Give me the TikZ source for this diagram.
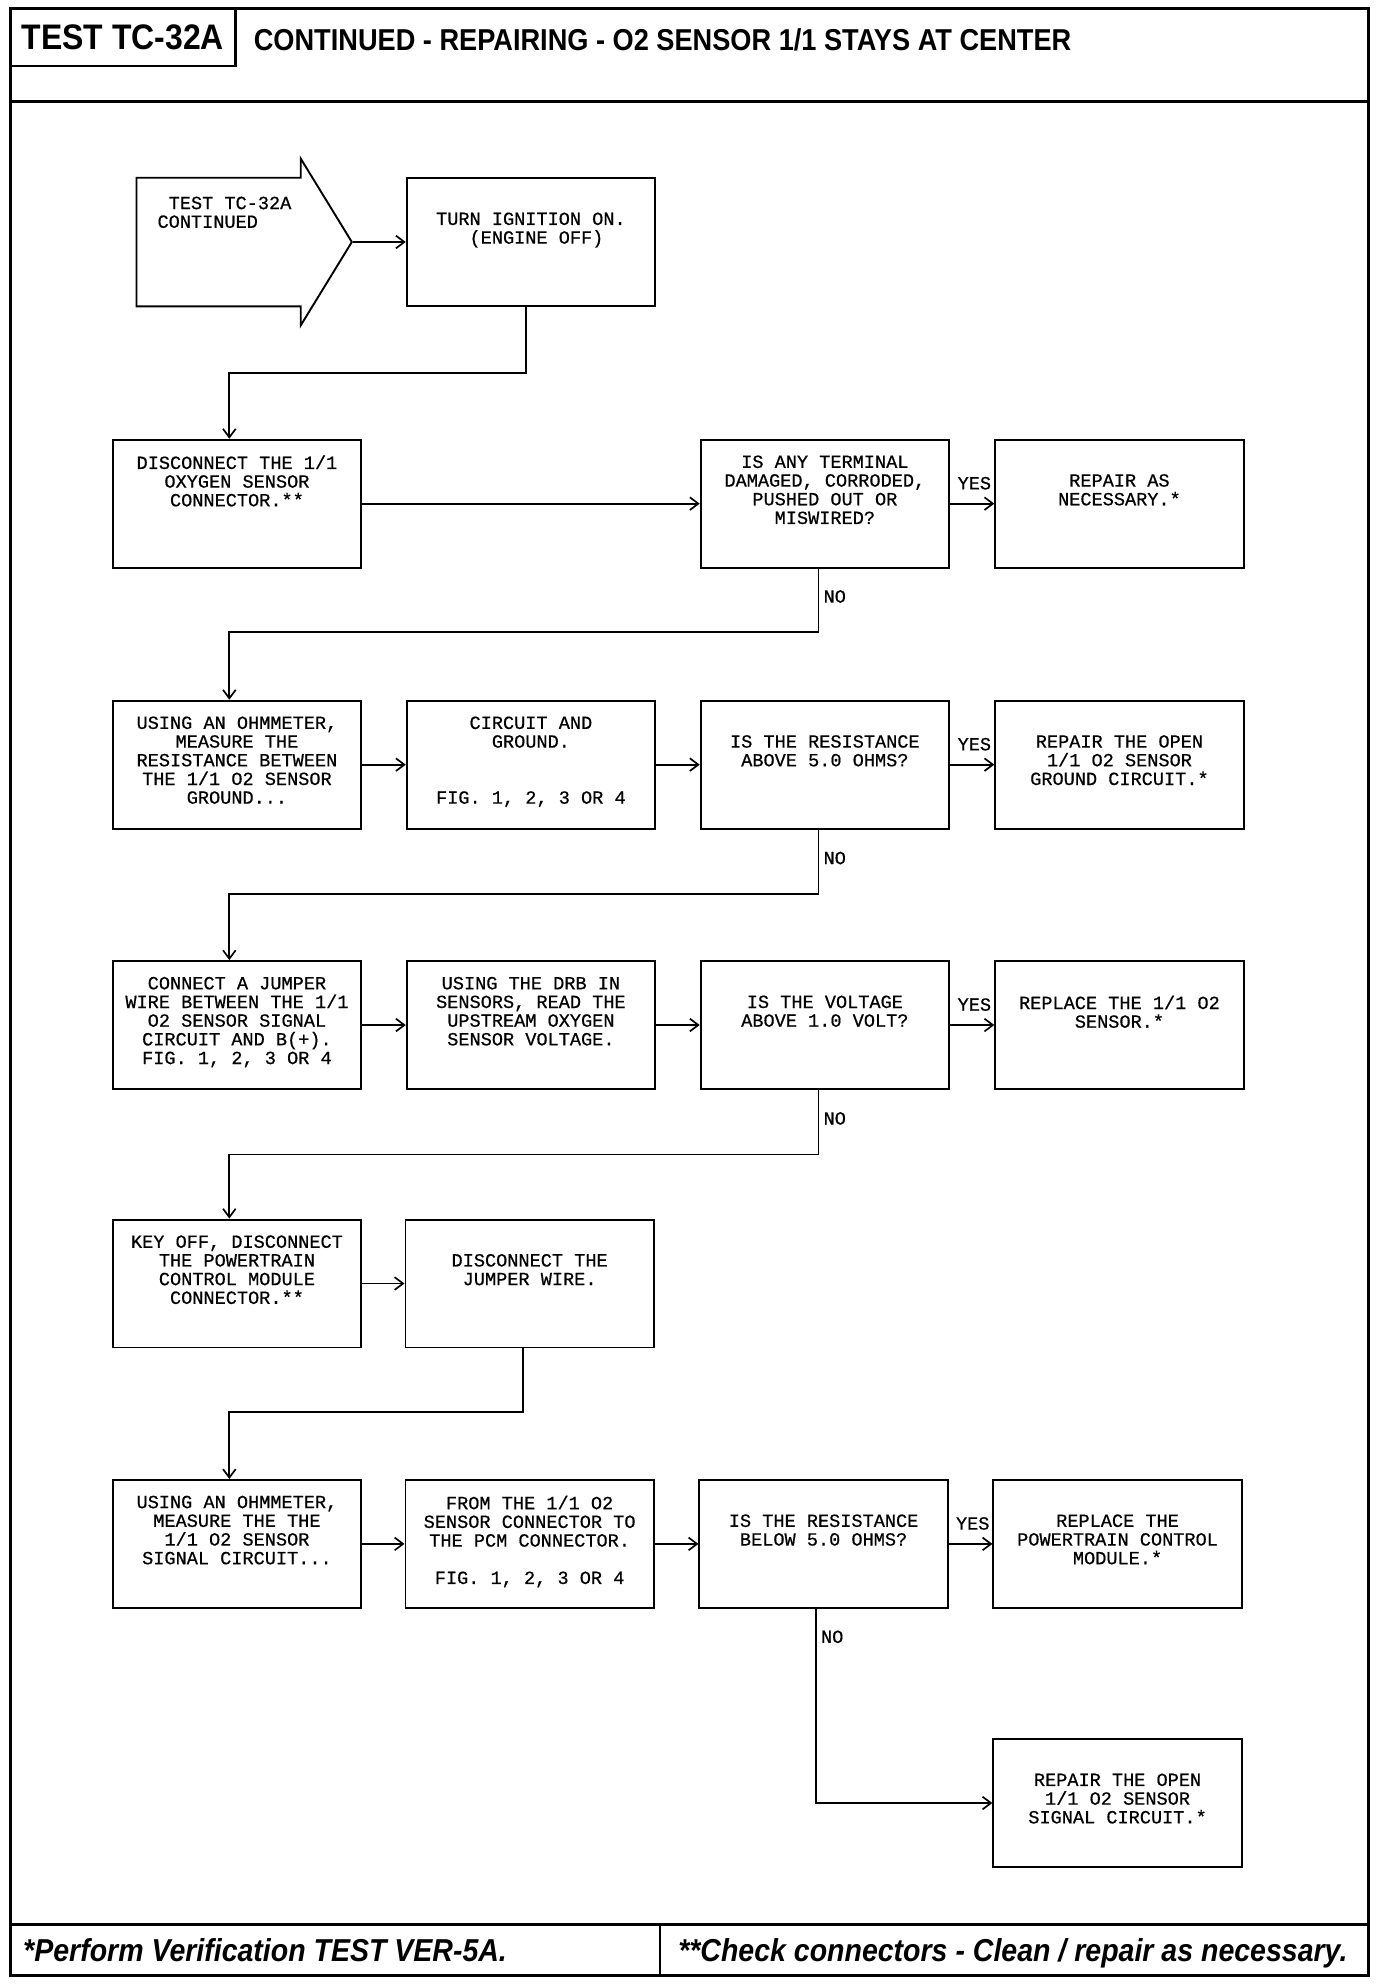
\documentclass[tikz,border=0pt]{standalone}
\usepackage{fontspec}
\usepackage{tikz}
\usetikzlibrary{arrows.meta, shapes.arrows}
\newfontfamily\monofont{Liberation Mono}[FakeBold=0.6]
\newfontfamily\headfont{Liberation Sans}[FakeStretch=0.9]

\begin{document}
\begin{tikzpicture}[x=0.6pt, y=-0.6pt]
\tikzstyle{box}=[draw, line width=0.9pt, minimum width=117.6pt, minimum height=60.6pt, inner sep=0pt]
\tikzstyle{txt}=[anchor=north, yshift=-7.74pt, align=center, inner sep=0pt, font=\monofont\fontsize{8.8}{8.85}\selectfont, execute at begin node=\strut]
\tikzstyle{txtlow}=[txt, yshift=-8.85pt]
\tikzstyle{lbl}=[inner sep=0pt, font=\monofont\fontsize{8.8}{8.85}\selectfont]
\tikzstyle{line}=[draw, line width=0.8pt, -{Straight Barb[length=4pt, width=6pt]}]
\tikzstyle{startarrow}=[single arrow, draw, line width=0.9pt, inner xsep=41.2pt, inner ysep=30pt, single arrow head extend=9pt, single arrow tip angle=117, anchor=tail]
\useasboundingbox (0,0) rectangle (1086,1569);

\draw[line width=1.5pt] (8,7) rectangle (1080,1559);
\draw[line width=1.2pt] (8,80) -- (1080,80);
\draw[line width=1.2pt] (8,1519) -- (1080,1519);
\draw[line width=1.2pt] (521,1519) -- (521,1559);
\node[draw, line width=1.2pt, minimum width=106.8pt, minimum height=27pt, inner sep=0pt, font=\headfont\bfseries\fontsize{16.8}{16.8}\selectfont] (tst) at (97,29.5) {TEST TC-32A};
\node[anchor=base west, inner sep=0pt, font=\headfont\bfseries\fontsize{14.3}{14.3}\selectfont] (ttl) at (200,39.5) {CONTINUED - REPAIRING - O2 SENSOR 1/1 STAYS AT CENTER};
\node[anchor=base west, inner sep=0pt, font=\headfont\bfseries\itshape\fontsize{15}{15}\selectfont] (ver) at (18,1548) {*Perform Verification TEST VER-5A.};
\node[anchor=base west, inner sep=0pt, font=\headfont\bfseries\itshape\fontsize{15}{15}\selectfont] (chk) at (535,1548) {**Check connectors - Clean / repair as necessary.};

\node[startarrow] (start) at (107,191) {};
\node[txt, anchor=north west, align=left] (start-t) at (124,142) {\phantom{T}TEST TC-32A\\CONTINUED};

\node[box] (ign) at (419,191) {};
\node[box] (dis) at (187,397.5) {};
\node[box] (ter) at (651,397.5) {};
\node[box] (rpn) at (883.5,397.5) {};
\node[box] (ohg) at (187,603.5) {};
\node[box] (cag) at (419,603.5) {};
\node[box] (rag) at (651,603.5) {};
\node[box] (rog) at (883.5,603.5) {};
\node[box] (jmp) at (187,809) {};
\node[box] (drb) at (419,809) {};
\node[box] (vlt) at (651,809) {};
\node[box] (rso) at (883.5,809) {};
\node[box] (key) at (187,1013) {};
\node[box] (djw) at (418,1013) {};
\node[box] (ohs) at (187,1218.5) {};
\node[box] (pcm) at (418,1218.5) {};
\node[box] (ras) at (650,1218.5) {};
\node[box] (rpc) at (882,1218.5) {};
\node[box] (ros) at (882,1423) {};

\node[txtlow] (ign-t) at (ign.north) {TURN IGNITION ON.\\\phantom{T}(ENGINE OFF)};
\node[txt] (dis-t) at (dis.north) {DISCONNECT THE 1/1\\OXYGEN SENSOR\\CONNECTOR.**};
\node[txt] (ter-t) at (ter.north) {IS ANY TERMINAL\\DAMAGED, CORRODED,\\PUSHED OUT OR\\MISWIRED?};
\node[txtlow] (rpn-t) at (rpn.north) {REPAIR AS\\NECESSARY.*};
\node[txt] (ohg-t) at (ohg.north) {USING AN OHMMETER,\\MEASURE THE\\RESISTANCE BETWEEN\\THE 1/1 O2 SENSOR\\GROUND...};
\node[txt] (cag-t) at (cag.north) {CIRCUIT AND\\GROUND.\\\mbox{}\\\mbox{}\\FIG. 1, 2, 3 OR 4};
\node[txtlow] (rag-t) at (rag.north) {IS THE RESISTANCE\\ABOVE 5.0 OHMS?};
\node[txtlow] (rog-t) at (rog.north) {REPAIR THE OPEN\\1/1 O2 SENSOR\\GROUND CIRCUIT.*};
\node[txt] (jmp-t) at (jmp.north) {CONNECT A JUMPER\\WIRE BETWEEN THE 1/1\\O2 SENSOR SIGNAL\\CIRCUIT AND B(+).\\FIG. 1, 2, 3 OR 4};
\node[txt] (drb-t) at (drb.north) {USING THE DRB IN\\SENSORS, READ THE\\UPSTREAM OXYGEN\\SENSOR VOLTAGE.};
\node[txtlow] (vlt-t) at (vlt.north) {IS THE VOLTAGE\\ABOVE 1.0 VOLT?};
\node[txtlow] (rso-t) at (rso.north) {REPLACE THE 1/1 O2\\SENSOR.*};
\node[txt] (key-t) at (key.north) {KEY OFF, DISCONNECT\\THE POWERTRAIN\\CONTROL MODULE\\CONNECTOR.**};
\node[txtlow] (djw-t) at (djw.north) {DISCONNECT THE\\JUMPER WIRE.};
\node[txt] (ohs-t) at (ohs.north) {USING AN OHMMETER,\\MEASURE THE THE\\1/1 O2 SENSOR\\SIGNAL CIRCUIT...};
\node[txt] (pcm-t) at (pcm.north) {FROM THE 1/1 O2\\SENSOR CONNECTOR TO\\THE PCM CONNECTOR.\\\mbox{}\\FIG. 1, 2, 3 OR 4};
\node[txtlow] (ras-t) at (ras.north) {IS THE RESISTANCE\\BELOW 5.0 OHMS?};
\node[txtlow] (rpc-t) at (rpc.north) {REPLACE THE\\POWERTRAIN CONTROL\\MODULE.*};
\node[txtlow] (ros-t) at (ros.north) {REPAIR THE OPEN\\1/1 O2 SENSOR\\SIGNAL CIRCUIT.*};

\path[line] (start.tip) -- (ign.west);
\path[line] ([xshift=-2.4pt]ign.south) -- ++(0,52) -| ([xshift=-3.6pt]dis.north);
\path[line] (dis) -- (ter);
\path[line] (ter) -- node[lbl, above=6.3pt, pos=.55] {YES} (rpn);
\path[line] ([xshift=-3pt]ter.south) -- node[lbl, right=2pt, pos=.44] {NO} ++(0,50) -| ([xshift=-3.6pt]ohg.north);
\path[line] (ohg) -- (cag);
\path[line] (cag) -- (rag);
\path[line] (rag) -- node[lbl, above=6.3pt, pos=.55] {YES} (rog);
\path[line] ([xshift=-3pt]rag.south) -- node[lbl, right=2pt, pos=.44] {NO} ++(0,51) -| ([xshift=-3.6pt]jmp.north);
\path[line] (jmp) -- (drb);
\path[line] (drb) -- (vlt);
\path[line] (vlt) -- node[lbl, above=6.3pt, pos=.55] {YES} (rso);
\path[line] ([xshift=-3pt]vlt.south) -- node[lbl, right=2pt, pos=.44] {NO} ++(0,51) -| ([xshift=-3.6pt]key.north);
\path[line] (key) -- (djw);
\path[line] ([xshift=-3pt]djw.south) -- ++(0,50) -| ([xshift=-3.6pt]ohs.north);
\path[line] (ohs) -- (pcm);
\path[line] (pcm) -- (ras);
\path[line] (ras) -- node[lbl, above=6.3pt, pos=.55] {YES} (rpc);
\path[line] ([xshift=-3.6pt]ras.south) |- node[lbl, right=2pt, pos=.072] {NO} (ros.west);

\end{tikzpicture}
\end{document}
